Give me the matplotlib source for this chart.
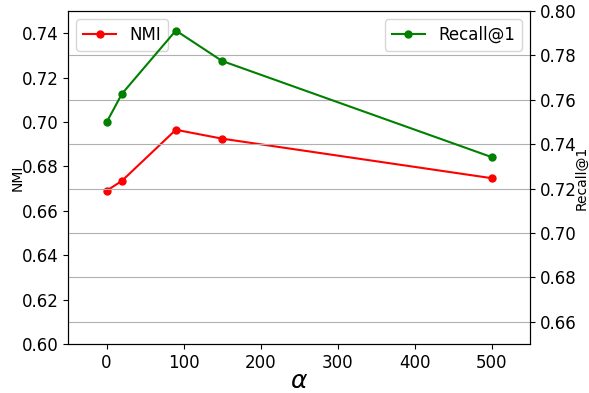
import matplotlib
matplotlib.use("Agg")
import matplotlib.pyplot as plt

# alpha values and the two metrics
alpha = [0, 20, 90, 150, 500]
nmi = [0.669, 0.6735, 0.6965, 0.6925, 0.6747]
recall = [0.7498, 0.7627, 0.7912, 0.7775, 0.7342]

fig, ax = plt.subplots(figsize=(5.89, 3.93), dpi=100)
plt.subplots_adjust(left=0.1155, right=0.900, top=0.972, bottom=0.1247)

ax.plot(alpha, nmi, color="red", marker="o", markersize=5, label="NMI")
ax.set_ylim(0.60, 0.75)
ax.set_xlim(-50, 550)
ax.set_ylabel("NMI", fontsize=10, labelpad=-2)
ax.set_xlabel(r"$\alpha$", fontsize=18, labelpad=-2)
ax.tick_params(labelsize=12)
ax.legend(loc="upper left", fontsize=12)

ax2 = ax.twinx()
ax2.plot(alpha, recall, color="green", marker="o", markersize=5, label="Recall@1")
ax2.set_ylim(0.65, 0.80)
ax2.set_ylabel("Recall@1", fontsize=10, labelpad=-1.5)
ax2.tick_params(labelsize=12)
ax2.grid(True, axis="y", color="#b0b0b0")
ax2.legend(loc="upper right", fontsize=12)

plt.savefig("out.png", dpi=100)
